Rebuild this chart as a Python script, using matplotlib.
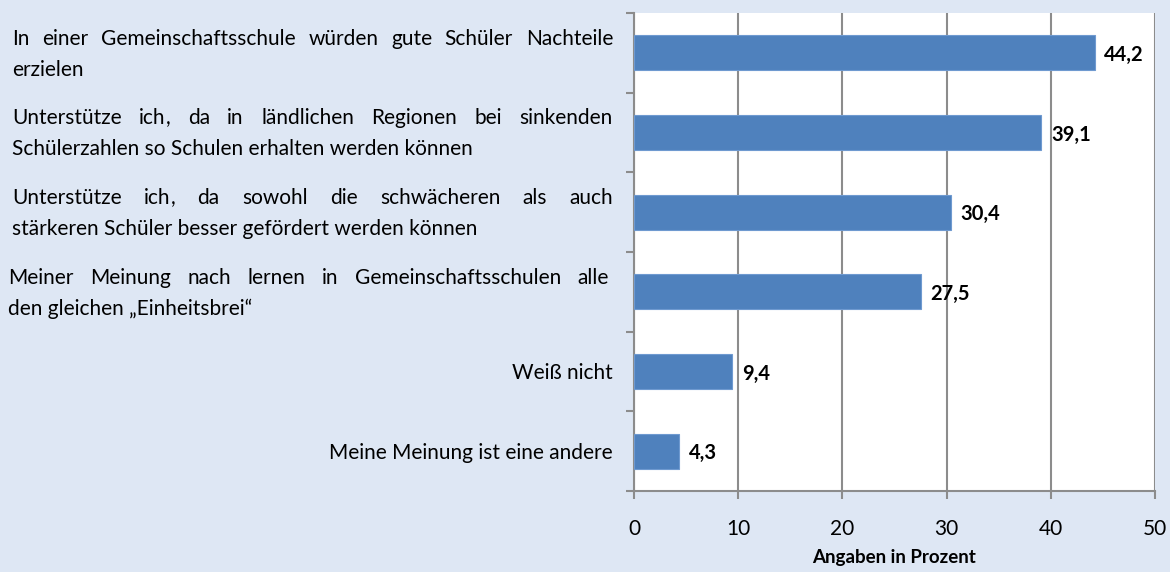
import matplotlib
matplotlib.use("Agg")
import matplotlib.pyplot as plt
import matplotlib.transforms as mtransforms

# data (top to bottom as in the chart)
labels = [
    ["In einer Gemeinschaftsschule würden gute Schüler Nachteile", "erzielen"],
    ["Unterstütze ich, da in ländlichen Regionen bei sinkenden",
     "Schülerzahlen so Schulen erhalten werden können"],
    ["Unterstütze ich, da sowohl die schwächeren als auch",
     "stärkeren Schüler besser gefördert werden können"],
    ["Meiner Meinung nach lernen in Gemeinschaftsschulen alle",
     "den gleichen „Einheitsbrei“"],
    ["Weiß nicht"],
    ["Meine Meinung ist eine andere"],
]
values = [44.2, 39.1, 30.4, 27.5, 9.4, 4.3]
value_text = ["44,2", "39,1", "30,4", "27,5", "9,4", "4,3"]
xticks = [0, 10, 20, 30, 40, 50]

BG = "#DEE7F4"
BAR = "#4F81BD"
GRID = "#8C8C8C"
FONT = "Lato"
W, H = 1170, 572

fig = plt.figure(figsize=(W / 100, H / 100), dpi=100, facecolor=BG)
ax = fig.add_axes([634 / W, 1 - 491 / H, (1155 - 634) / W, (491 - 13) / H])
ax.set_facecolor("white")

n = len(values)
ypos = list(range(n))
ax.barh(ypos, values, height=0.44, color=BAR, edgecolor="#6F9AD0", linewidth=0.8, zorder=3)
ax.set_ylim(n - 0.5, -0.5)
ax.set_xlim(0, 50)

# grid and frame
ax.set_xticks(xticks)
ax.set_xticklabels([str(t) for t in xticks], fontsize=15, family=FONT)
ax.xaxis.grid(True, color=GRID, linewidth=1.5, zorder=0)
for s in ["top", "right"]:
    ax.spines[s].set_visible(False)
ax.spines["left"].set_color(GRID)
ax.spines["bottom"].set_color(GRID)
ax.spines["left"].set_linewidth(1.5)
ax.spines["bottom"].set_linewidth(1.5)
ax.tick_params(axis="x", length=6, width=1.5, color=GRID, pad=14)
ax.set_yticks([i + 0.5 for i in range(-1, n)])
ax.set_yticklabels([])
ax.tick_params(axis="y", length=6, width=1.5, color=GRID)
ax.set_xlabel("Angaben in Prozent", fontsize=13.5, fontweight="bold", family=FONT, labelpad=7)

# value labels
for y, v, t in zip(ypos, values, value_text):
    ax.annotate(t, (v, y), xytext=(7, 0), textcoords="offset points", va="center_baseline",
                ha="left", fontsize=14.5, fontweight="bold", family=FONT)

# category labels, first line justified like the original
fig.canvas.draw()
renderer = fig.canvas.get_renderer()
fs = 15
base = mtransforms.blended_transform_factory(fig.transFigure, ax.transData)
trans = mtransforms.offset_copy(base, fig=fig, y=-5.3, units="points")
line_gap = 31 / ((491 - 13) / n)  # 31 px between lines in data units
left_x = [12, 12, 12, 8, None, None]
right_x = [613, 613, 613, 609, 613, 613]


def word_width(w):
    t = fig.text(0, 0, w, fontsize=fs, family=FONT)
    wd = t.get_window_extent(renderer).width
    t.remove()
    return wd


for i, lines in enumerate(labels):
    y0 = i - (len(lines) - 1) * line_gap / 2
    for j, line in enumerate(lines):
        y = y0 + j * line_gap
        if left_x[i] is None:
            fig.text(right_x[i] / W, y, line, transform=trans, ha="right", va="baseline",
                     fontsize=fs, family=FONT)
        elif j == 0 and len(lines) > 1:
            words = line.split(" ")
            widths = [word_width(w) for w in words]
            gap = (right_x[i] - left_x[i] - sum(widths)) / (len(words) - 1)
            x = left_x[i]
            for w, wd in zip(words, widths):
                if w.endswith(","):
                    # comma drawn on its own, agg shifts words holding it
                    stem = w[:-1]
                    fig.text(x / W, y, stem, transform=trans, ha="left", va="baseline",
                             fontsize=fs, family=FONT)
                    fig.text((x + word_width(stem)) / W, y, ",", transform=trans, ha="left",
                             va="baseline", fontsize=fs, family=FONT)
                else:
                    fig.text(x / W, y, w, transform=trans, ha="left", va="baseline",
                             fontsize=fs, family=FONT)
                x += wd + gap
        else:
            fig.text(left_x[i] / W, y, line, transform=trans, ha="left", va="baseline",
                     fontsize=fs, family=FONT)

fig.savefig("out.png", dpi=100, facecolor=BG)
